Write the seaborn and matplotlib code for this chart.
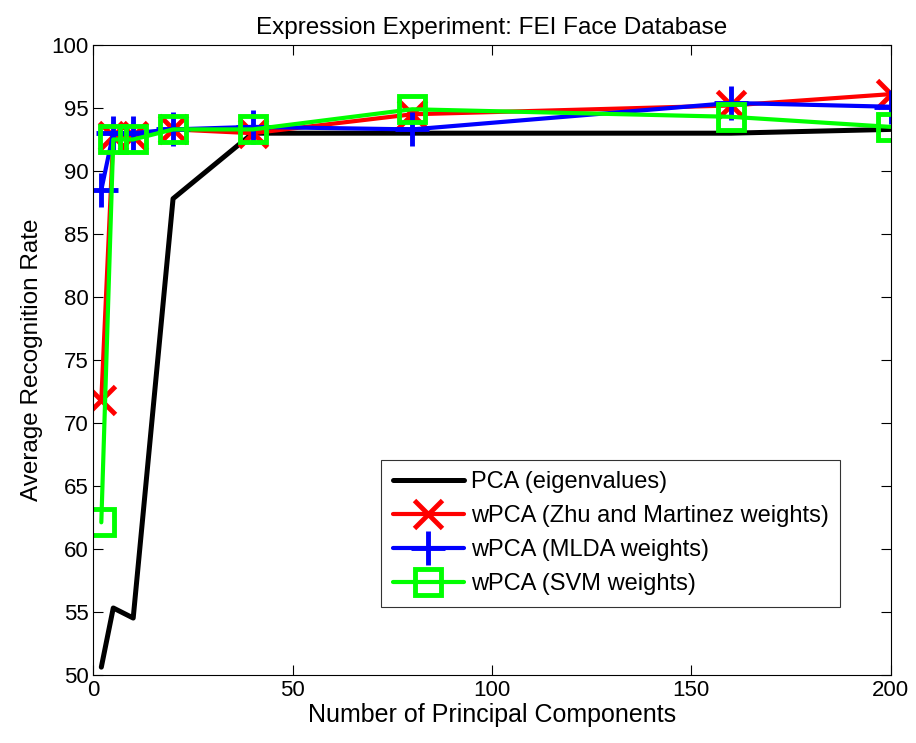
import matplotlib
matplotlib.use('Agg')
import matplotlib.pyplot as plt
import seaborn as sns
import pandas as pd

# number of principal components
n_pc = [2, 5, 10, 20, 40, 80, 160, 200]

# average recognition rates
pca_eig = [50.6, 55.3, 54.5, 87.8, 93.0, 93.0, 93.0, 93.3]
wpca_zhu = [71.8, 92.8, 92.8, 93.3, 93.0, 94.5, 95.2, 96.1]
wpca_mlda = [88.5, 93.0, 93.0, 93.3, 93.5, 93.3, 95.4, 95.1]
wpca_svm = [62.1, 92.5, 92.5, 93.3, 93.3, 94.9, 94.3, 93.5]

labels = ['PCA (eigenvalues)', 'wPCA (Zhu and Martinez weights)',
          'wPCA (MLDA weights)', 'wPCA (SVM weights)']

sns.set_style('ticks')
plt.rcParams['font.family'] = ['Liberation Sans', 'DejaVu Sans']
plt.rcParams['text.color'] = 'black'
plt.rcParams['axes.labelcolor'] = 'black'
plt.rcParams['xtick.color'] = 'black'
plt.rcParams['ytick.color'] = 'black'

fig = plt.figure(figsize=(9.16, 7.43), dpi=100)
ax = fig.add_axes([0.1019, 0.0919, 0.8703, 0.8475])

df = pd.DataFrame({'x': n_pc, 'pca': pca_eig, 'zhu': wpca_zhu,
                   'mlda': wpca_mlda, 'svm': wpca_svm})

sns.lineplot(data=df, x='x', y='pca', color='black', lw=3.6,
             label=labels[0], ax=ax)
sns.lineplot(data=df, x='x', y='zhu', color='#ff0000', lw=3,
             marker='x', markersize=20, mew=3.5, mec='#ff0000',
             label=labels[1], ax=ax)
sns.lineplot(data=df, x='x', y='mlda', color='#0000ff', lw=3,
             marker='+', markersize=24, mew=3.5, mec='#0000ff',
             label=labels[2], ax=ax)
sns.lineplot(data=df, x='x', y='svm', color='#00ff00', lw=3,
             marker='s', markersize=19, mew=3.5, mec='#00ff00', mfc='none',
             label=labels[3], ax=ax)

ax.set_xlim(0, 200)
ax.set_ylim(50, 100)
ax.set_xticks([0, 50, 100, 150, 200])
ax.set_yticks(range(50, 101, 5))
ax.tick_params(direction='in', length=7, width=0.8, labelsize=16,
               top=True, right=True, colors='black')
for s in ax.spines.values():
    s.set_visible(True)
    s.set_linewidth(0.8)
    s.set_color('black')

ax.set_title('Expression Experiment: FEI Face Database', fontsize=17.5, pad=8)
ax.set_xlabel('Number of Principal Components', fontsize=18, labelpad=2)
ax.set_ylabel('Average Recognition Rate', fontsize=17.5, labelpad=6)

leg = ax.legend(loc='lower right', bbox_to_anchor=(0.937, 0.108),
                fontsize=17, frameon=True, fancybox=False,
                edgecolor='black', handlelength=3.0, borderpad=0.5,
                labelspacing=0.5, handletextpad=0.3, borderaxespad=0)
leg.get_frame().set_linewidth(0.8)

fig.savefig('out.png', dpi=100)
